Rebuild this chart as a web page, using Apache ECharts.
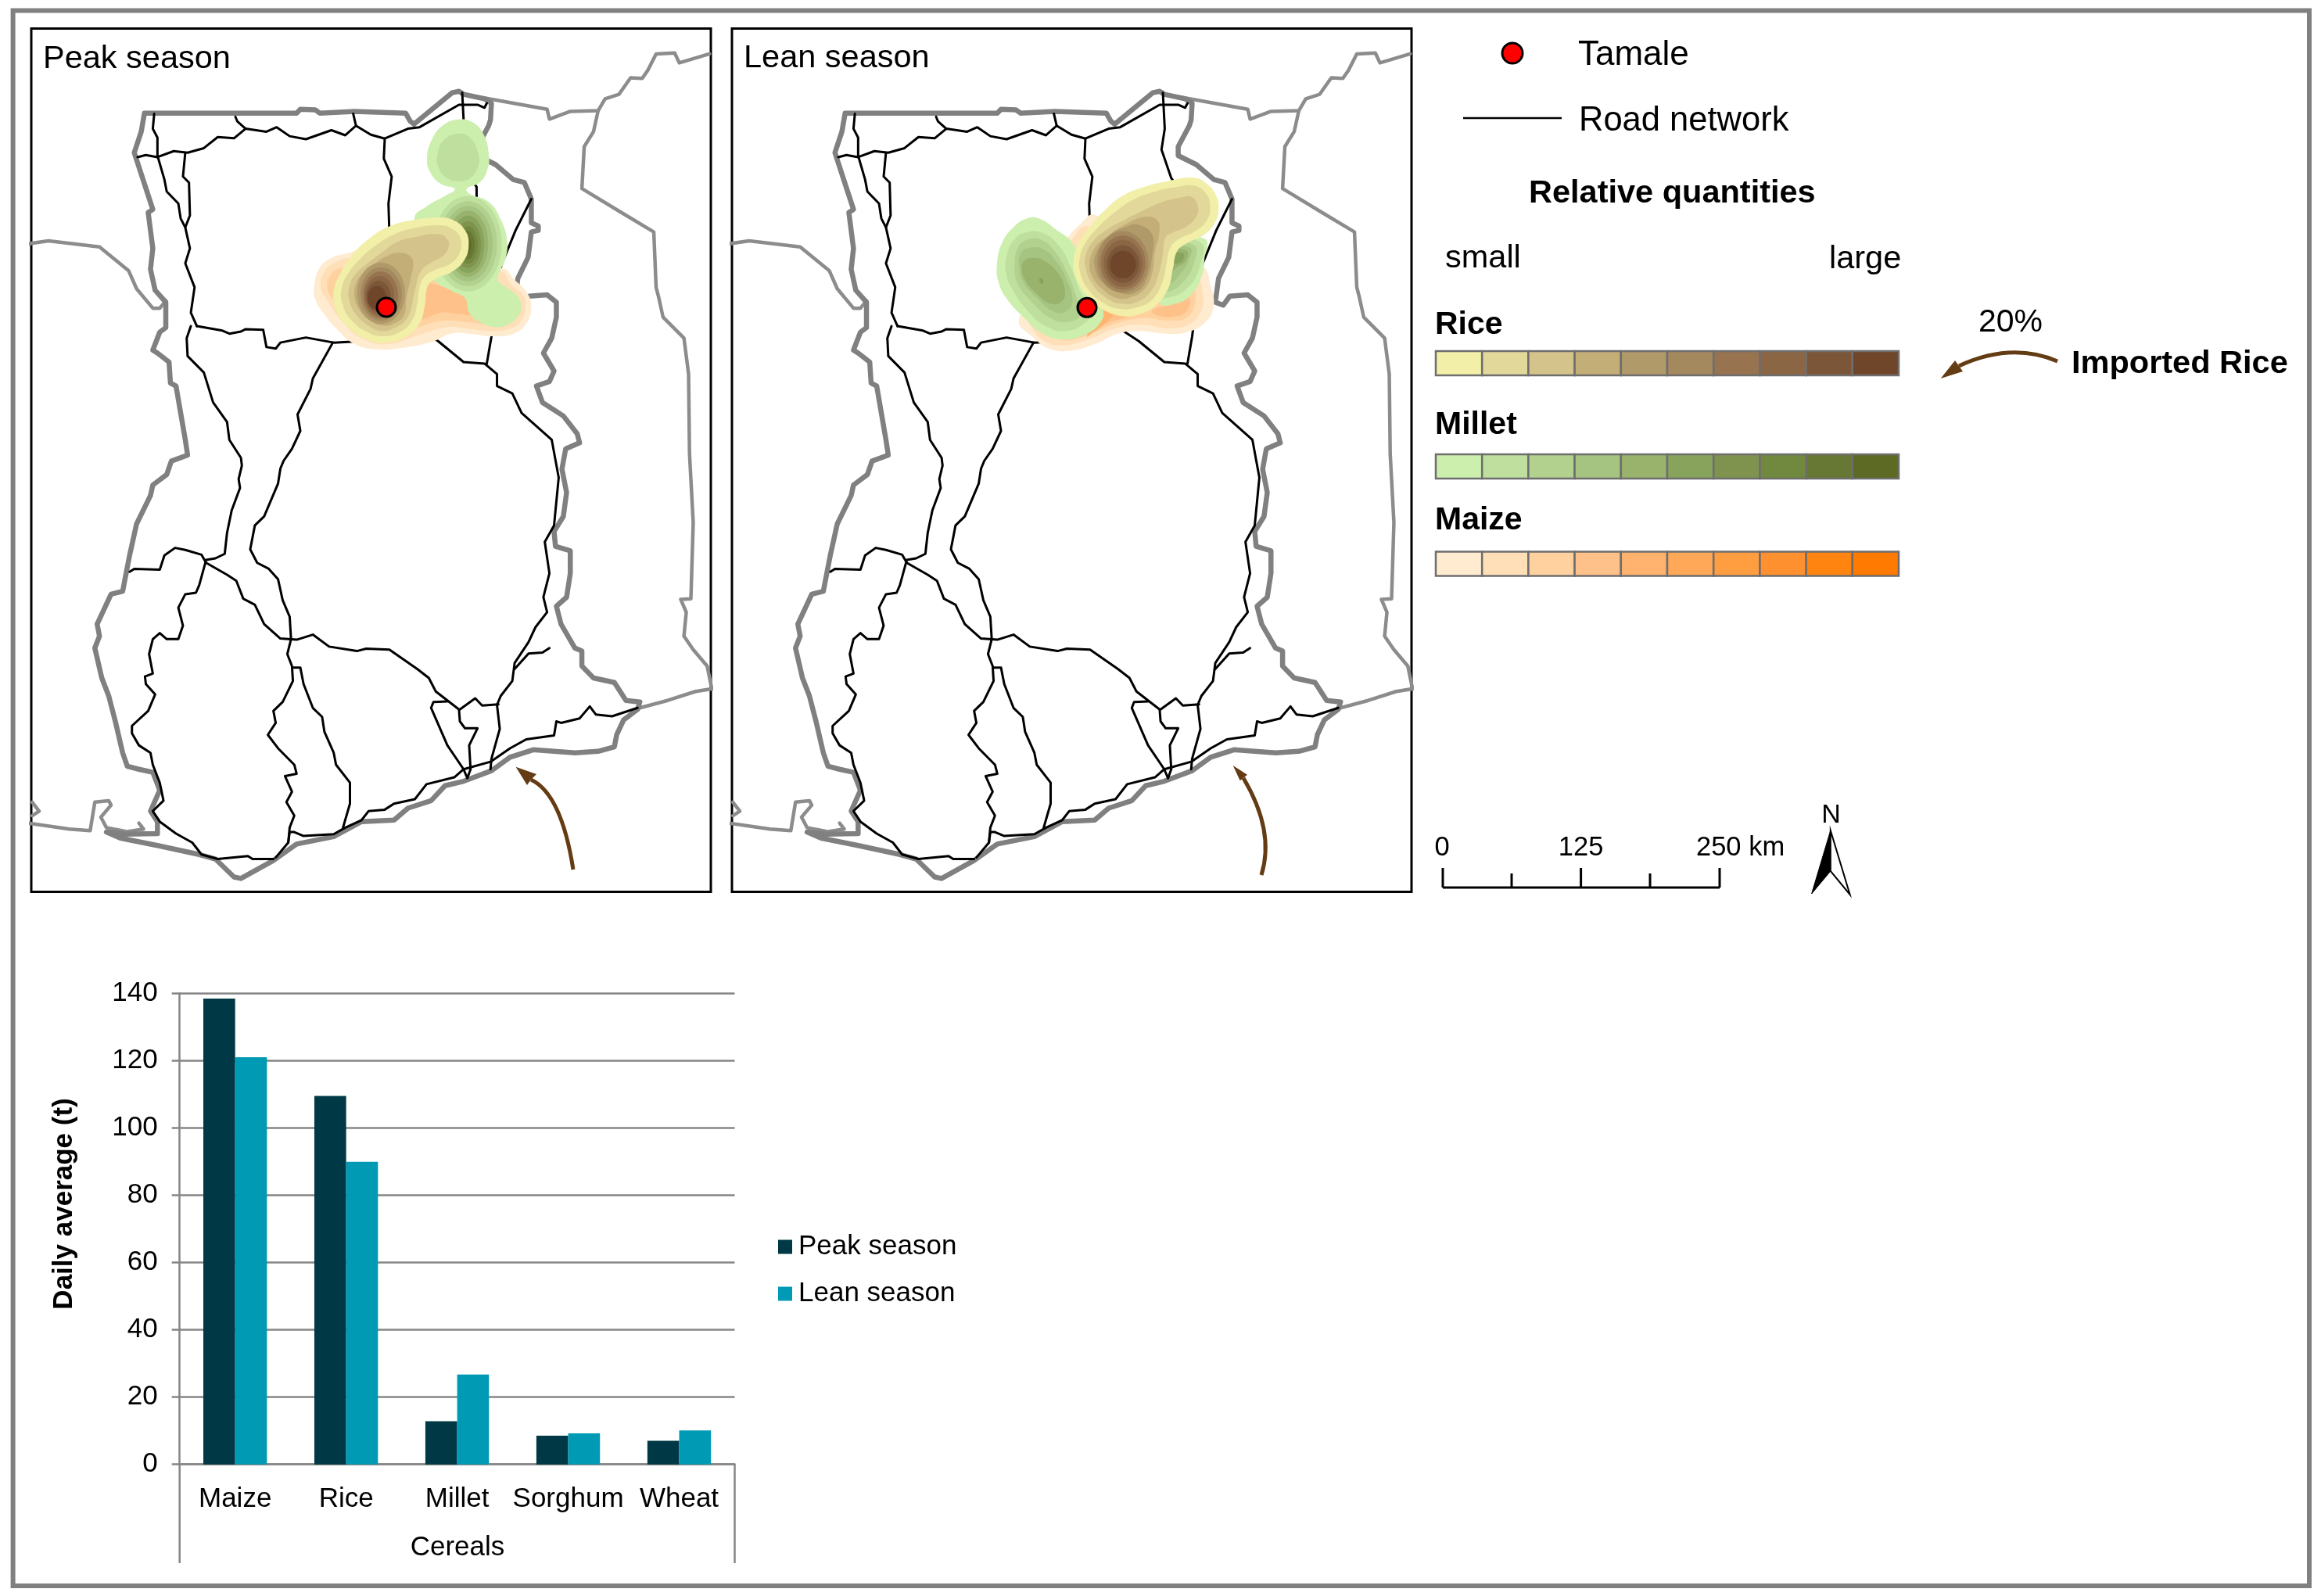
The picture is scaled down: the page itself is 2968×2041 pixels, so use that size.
<!DOCTYPE html>
<html><head><meta charset="utf-8">
<style>html,body{margin:0;padding:0;background:#fff}#c{width:2968px;height:2041px}</style>
<script src="https://cdn.jsdelivr.net/npm/echarts@6/dist/echarts.min.js"></script>
</head><body><div id="c"></div>
<script>
/* ---------- bar chart data ---------- */
const categories = ['Maize','Rice','Millet','Sorghum','Wheat'];
const peakValues = [138.4,109.5,12.8,8.5,7.0];
const leanValues = [121.0,89.9,26.7,9.2,10.1];
const yTicks = {min:0,max:140,step:20};

/* ---------- legend colour ramps (small -> large) ---------- */
const riceRamp   = ['#F2EFA8','#E2D89A','#D4C48C','#C3AE78','#B09A6A','#A4885E','#977350','#8B6644','#7C5639','#70462B'];
const milletRamp = ['#CCEFAE','#BEDF9E','#B2D18E','#A5C482','#99B36D','#88A45C','#7F934F','#71883F','#667834','#5D6A24'];
const maizeRamp  = ['#FFEBD0','#FFDFB8','#FFD19F','#FFC18A','#FFB36E','#FFA858','#FF9E40','#FF9030','#FF8510','#FF7A00'];

/* ---------- map geometry, traced in map units (south sheet is offset by S) ---------- */
const S = pts => pts.map(p => [p[0], p[1] + 1516]);
const ghanaBorder = [[312,378],[640,378],[648,365],[680,367],[690,378],[765,372],[875,378],[885,405],[893,415],[975,310],[990,305],[1000,315],[1045,330],[1060,345],[1058,400],[1054,420],[1030,490],[1030,520],[1069,550],[1107,600],[1131,610],[1146,665],[1146,745],[1161,755],[1161,770],[1146,775],[1139,860],[1117,930],[1110,1010],[1127,1020],[1141,990],[1180,985],[1200,1010],[1200,1060],[1190,1130],[1172,1180],[1195,1240],[1185,1275],[1157,1290],[1170,1345],[1215,1390],[1245,1450],[1250,1480],[1220,1500],[1212,1568],
 ...S([[1222,130],[1215,210],[1195,260],[1198,310],[1230,325],[1230,400],[1222,480],[1200,510],[1210,570],[1240,650],[1255,660],[1255,710],[1280,750],[1325,765],[1350,825],[1380,830],[1375,855],[1345,890],[1330,940],[1325,980],[1290,995],[1240,1000],[1150,990],[1100,1015],[1060,1060],[1000,1095],[960,1110],[930,1160],[880,1185],[850,1225],[780,1230],[720,1280],[640,1305],[590,1360],[520,1420],[505,1415],[465,1355],[430,1340],[340,1310],[260,1285],[230,1265],[270,1272],[340,1270],[340,1230],[325,1195],[345,1125],[330,1065],[300,1055],[275,1045],[265,1000],[250,900],[235,810],[220,750],[205,650],[215,610],[210,570],[240,470],[265,460],[280,340],[295,235],[325,140],[330,105],[360,70],[370,25],[405,5]]),
 [400,1470],[380,1290],[368,1280],[365,1210],[340,1180],[330,1170],[345,1110],[358,1095],[358,1010],[335,970],[325,900],[330,830],[320,710],[330,700],[290,510],[305,440],[312,378]];
const northBorder = [[1000,315],[1180,365],[1185,398],[1230,372],[1290,370],[1305,330],[1335,315],[1360,260],[1385,262],[1397,235],[1415,180],[1455,177],[1465,210],[1530,180]];
const togoBorder = [[1290,370],[1280,440],[1260,490],[1255,630],[1340,710],[1410,775],[1415,960],[1420,990],[1430,1060],[1475,1130],[1485,1250],[1487,1516],
 ...S([[1495,230],[1490,485],[1468,487],[1480,530],[1475,610],[1495,655],[1525,710],[1535,785]])];
const eastCoast = S([[1380,850],[1440,825],[1500,795],[1540,785]]);
const westBorder = [[60,815],[105,805],[215,825],[278,905],[295,965],[330,1030],[345,1030],[358,1005]];
const swBorderA = S([[60,1235],[150,1255],[195,1260],[205,1165],[235,1160],[240,1175],[218,1215],[230,1250],[270,1262]]);
const swBorderB = S([[300,1235],[310,1255],[270,1265]]);
const swBorderC = S([[70,1165],[85,1195],[70,1210]]);

const roadNorthEW = [[297,525],[315,518],[340,525],[375,505],[405,510],[440,495],[470,458],[505,462],[530,430],[575,440],[597,425],[625,455],[660,465],[715,435],[745,452],[768,420],[800,450],[830,463],[880,430],[905,425],[990,350],[1030,350],[1045,360],[1050,345]];
const roadNW = [[333,380],[330,430],[340,460],[340,520],[355,600],[360,640],[385,680],[390,730],[400,760]];
const roadSpurA = [[508,390],[512,405],[530,430]];
const roadSpurB = [[762,380],[768,420]];
const roadBolga = [[830,463],[828,530],[845,590],[838,680],[840,780],[832,1025]];
const roadNE = [[997,310],[1001,430],[994,500],[1015,595],[1028,625],[1028,670]];
const roadEast = [[1146,665],[1112,770],[1083,880],[1060,1000]];
const roadWest = [[400,510],[395,590],[408,610],[410,720],[400,760],[410,830],[400,880],[420,960],[412,1045],[425,1090]];
const roadSawla = [[425,1090],[480,1105],[495,1115],[520,1108],[530,1100],[568,1102],[575,1160],[595,1165],[605,1145],[660,1128],[720,1145],[780,1140],[832,1025]];
const roadCentral = [[718,1145],[675,1265],[670,1300],[642,1385],[648,1440],[630,1500],[612,1540],
 ...S([[605,50],[600,100],[570,210],[550,240],[540,320],[555,365],[580,385],[600,420],[610,490],[625,545],[628,620],[620,670],[630,710],[632,760],[610,830],[590,860],[595,900],[578,940],[600,985],[635,1040],[640,1070],[615,1078],[630,1130],[618,1165],[635,1210],[625,1250],[622,1300],[595,1350]])];
const roadSW = [[412,1090],[403,1130],[405,1190],[440,1245],[460,1345],[490,1410],[495,1470],[520,1530],
 ...S([[522,40],[515,85],[518,115],[500,190],[490,265],[485,335],[465,350],[445,355],[430,440],[423,465],[400,470],[385,515],[395,575],[385,620],[360,620],[345,600],[330,620],[322,670],[330,735],[313,745],[315,770],[335,805],[320,860],[285,910],[285,935],[300,975],[325,1000],[330,1040],[345,1100],[353,1160],[330,1195],[345,1230],[380,1270],[415,1300],[435,1340],[470,1355],[535,1345],[545,1355],[590,1355]])];
const roadVolta = [[832,1025],[945,1140],[1000,1210],[1045,1215],[1072,1250],[1072,1290],[1105,1315],[1125,1380],[1190,1470],
 ...S([[1205,80],[1195,240],[1175,295],[1185,400],[1172,480],[1180,530],[1155,580],[1140,630],[1110,700],[1105,760],[1080,810],[1072,840],[1078,920],[1060,1020],[1058,1055]])];
const roadYendi = [[1070,1000],[1060,1125],[1050,1215]];
const roadKumasi = S([[280,395],[290,385],[345,388],[355,340],[378,315],[400,322],[435,338],[445,365],[490,405],[510,425],[525,485],[550,505],[570,570],[605,618],[640,622],[675,605],[710,645],[770,660],[790,652],[840,655],[900,720],[925,750],[940,795],[965,825],[990,855],[992,895],[1003,918],[1030,918],[1012,975],[1015,1055]]);
const roadAccraW = S([[965,828],[935,830],[930,850],[965,975],[1000,1055],[1008,1085],[1015,1055]]);
const roadCape = S([[632,715],[648,715],[655,770],[675,850],[695,880],[700,930],[720,1000],[725,1040],[755,1100],[755,1170],[740,1250]]);
const roadKoforidua = S([[992,855],[1025,818],[1040,842],[1075,838]]);
const roadHo = S([[1185,650],[1170,665],[1140,668],[1110,720]]);
const roadCoast = S([[622,1300],[625,1265],[635,1265],[655,1278],[720,1272],[745,1250],[780,1225],[795,1195],[830,1190],[850,1170],[895,1155],[920,1105],[980,1082],[1000,1055],[1058,1030],[1100,985],[1135,955],[1195,942],[1200,895],[1210,900],[1250,885],[1272,845],[1285,872],[1320,878],[1375,850]]);
const roads = [roadNorthEW,roadNW,roadSpurA,roadSpurB,roadBolga,roadNE,roadEast,roadWest,roadSawla,roadCentral,roadSW,roadVolta,roadYendi,roadKumasi,roadAccraW,roadCape,roadKoforidua,roadHo,roadCoast];

/* ---------- quantity surfaces: contour bands [ramp, level, outline | ellipse] ---------- */
const peakContours = [
 ['maize',0,[[65,680],[85,610],[130,570],[205,548],[300,520],[500,600],[790,610],[830,650],[880,700],[898,760],[880,820],[830,860],[750,870],[660,860],[590,860],[520,890],[400,915],[300,920],[220,900],[150,840],[100,780],[70,730]]],
 ['maize',1,[[90,680],[105,620],[150,585],[205,570],[400,600],[780,620],[820,670],[870,720],[875,760],[860,810],[820,840],[740,850],[650,840],[580,835],[480,860],[350,900],[250,880],[170,810],[120,740]]],
 ['maize',2,[[115,680],[125,640],[160,610],[300,600],[600,650],[780,690],[850,730],[850,790],[780,825],[650,815],[560,810],[480,830],[350,880],[250,860],[180,790],[130,720]]],
 ['maize',3,[[400,640],[510,665],[640,715],[720,790],[620,785],[550,780],[480,805],[400,800]]],
 ['millet',0,[[620,38],[675,50],[715,95],[735,170],[730,230],[700,280],[650,305],[665,325],[735,355],[780,420],[805,500],[800,570],[770,650],[800,680],[840,710],[860,750],[850,790],[810,825],[760,835],[700,815],[660,780],[645,725],[600,700],[530,660],[500,620],[450,420],[500,370],[570,330],[605,305],[550,285],[510,240],[498,190],[515,120],[560,60]]],
 ['millet',1,[[620,93],[665,110],[695,170],[695,215],[665,262],[620,275],[570,260],[540,215],[537,180],[560,120]]],
 ['millet',1,{e:[655,515,130,183]}],['millet',2,{e:[655,515,112,163]}],['millet',3,{e:[655,515,95,145]}],
 ['millet',4,{e:[655,515,78,127]}],['millet',5,{e:[655,517,63,110]}],['millet',6,{e:[655,518,50,90]}],
 ['millet',7,{e:[655,520,38,72]}],['millet',8,{e:[655,520,26,55]}],['millet',9,{e:[652,520,16,37]}],
 ['rice',0,[[540,415],[600,425],[645,465],[658,520],[640,580],[590,625],[530,650],[500,680],[490,750],[470,820],[420,870],[340,895],[260,880],[190,830],[150,770],[140,700],[165,630],[210,560],[270,500],[350,450],[440,425]]],
 ['rice',1,[[540,445],[590,455],[625,490],[625,545],[590,590],[530,615],[490,640],[470,680],[460,750],[440,810],[400,850],[335,870],[270,855],[205,805],[175,750],[170,690],[195,630],[240,575],[290,530],[370,480],[450,455]]],
 ['rice',2,[[540,478],[578,500],[580,530],[555,565],[510,590],[475,620],[455,680],[435,770],[415,810],[380,835],[330,850],[275,830],[225,785],[200,730],[200,680],[225,630],[270,590],[330,545],[380,510],[450,490]]],
 ['rice',3,[[385,550],[430,560],[445,590],[435,650],[420,720],[410,790],[375,820],[330,830],[280,810],[240,770],[220,720],[225,670],[250,630],[300,590],[340,565]]],
 ['rice',4,{e:[322,705,92,118]}],['rice',5,{e:[322,708,79,103]}],['rice',6,{e:[320,711,67,89]}],
 ['rice',7,{e:[316,714,56,75]}],['rice',8,{e:[312,717,46,60]}],['rice',9,{e:[306,722,36,45]}]
];
const leanContours = [
 ['maize',0,[[315,285],[370,225],[420,195],[830,390],[865,470],[875,550],[840,610],[770,645],[690,650],[590,640],[510,650],[420,690],[330,715],[250,710],[190,670],[130,590]]],
 ['maize',1,[[340,280],[400,240],[800,420],[835,500],[825,570],[780,615],[700,630],[600,615],[500,630],[400,670],[300,695],[230,680],[180,630],[170,590]]],
 ['maize',2,[[790,480],[805,530],[770,590],[700,600],[620,590],[540,600],[450,630],[350,670],[280,670],[200,620],[500,500]]],
 ['maize',3,[[640,560],[740,530],[780,510],[775,560],[720,585],[660,580]]],
 ['maize',3,[[470,570],[560,580],[470,610],[400,650],[350,640]]],
 ['maize',4,[[440,570],[490,570],[470,600],[420,640],[390,660]]],
 ['millet',0,[[840,285],[840,370],[830,430],[790,500],[730,535],[670,530],[650,300]]],
 ['millet',1,[[825,300],[820,400],[780,470],[710,510],[650,500],[650,300]]],
 ['millet',2,[[800,310],[800,380],[760,450],[700,490],[650,480],[650,310]]],
 ['millet',3,[[785,320],[780,370],[745,425],[700,460],[650,450],[650,320]]],
 ['millet',4,[[770,330],[770,370],[735,395],[700,420],[650,400],[650,330]]],
 ['millet',5,[[755,340],[760,365],[740,380],[710,380],[650,370],[650,340]]],
 ['millet',0,[[160,208],[205,208],[270,250],[340,310],[360,400],[390,500],[450,560],[440,610],[380,655],[300,672],[220,650],[150,590],[85,520],[50,450],[45,380],[65,300],[110,240]]],
 ['millet',1,[[155,262],[215,262],[280,310],[330,400],[360,480],[400,570],[380,610],[310,640],[230,620],[160,560],[110,490],[80,420],[85,340],[115,285]]],
 ['millet',2,[[160,290],[215,290],[270,340],[320,430],[350,510],[370,570],[320,605],[250,590],[180,530],[125,460],[112,390],[125,320]]],
 ['millet',3,[[165,322],[220,325],[270,370],[310,440],[335,520],[310,565],[260,565],[195,510],[145,450],[130,390],[135,345]]],
 ['millet',4,[[180,360],[225,370],[280,420],[305,480],[295,525],[250,535],[195,495],[150,440],[140,395],[150,370]]],
 ['millet',5,[[210,435],[222,445],[218,460],[208,450]]],
 ['rice',0,[[800,52],[850,75],[885,120],[895,170],[880,225],[840,270],[770,305],[735,335],[720,400],[700,480],[650,545],[590,575],[520,582],[440,550],[385,500],[350,440],[338,380],[355,310],[400,240],[460,175],[520,125],[600,90],[700,65]]],
 ['rice',1,[[800,82],[845,110],[862,155],[850,215],[800,260],[745,285],[710,320],[695,380],[680,450],[640,520],[580,550],[515,555],[450,530],[395,480],[365,420],[362,360],[385,300],[430,245],[490,190],[560,140],[650,105],[730,88]]],
 ['rice',2,[[790,125],[815,160],[810,200],[770,240],[720,262],[690,285],[680,350],[665,420],[640,480],[590,525],[520,535],[460,510],[410,460],[385,400],[385,350],[410,300],[460,255],[530,215],[590,185],[680,145],[740,130]]],
 ['rice',3,[[610,202],[660,215],[668,260],[650,340],[640,420],[610,480],[560,510],[510,515],[450,480],[410,430],[400,380],[420,320],[470,275],[530,235]]],
 ['rice',4,[[585,232],[640,270],[640,350],[620,440],[580,490],[520,495],[455,460],[420,395],[430,330],[480,270],[540,240]]],
 ['rice',5,{e:[528,375,98,118]}],['rice',6,{e:[528,378,86,104]}],['rice',7,{e:[528,380,74,90]}],
 ['rice',8,{e:[528,383,62,72]}],['rice',9,{e:[528,385,50,53]}]
];
const tamalePeak = [[342,759]];
const tamaleLean = [[390,550]];

/* ---------- page layout ---------- */
const FONT = '"Liberation Sans", Arial, sans-serif';
const mapAxis = {xMin:68,xMax:1533,yMin:95,yMax:2981};
const panelW = 869, panelH = 1104.2, panelTop = 36.4;
const peakLeft = 40, leanLeft = 936;
const ramps = {rice:riceRamp, millet:milletRamp, maize:maizeRamp};
const ink = '#000', grey = '#808080', brown = '#643C14', axisGrey = '#868686';

const grids = [
 {left:229.7,top:1270.2,width:709.8,height:602.5},
 {left:peakLeft,top:panelTop,width:panelW,height:panelH,show:true,borderColor:ink,borderWidth:3,backgroundColor:'transparent'},
 {left:leanLeft,top:panelTop,width:panelW,height:panelH,show:true,borderColor:ink,borderWidth:3,backgroundColor:'transparent'},
 {left:380,top:140,width:320,height:320},
 {left:1260,top:210,width:320,height:250}
];
const hiddenX = (g,min,max)=>({gridIndex:g,type:'value',show:false,min,max});
const hiddenY = (g,min,max)=>({gridIndex:g,type:'value',show:false,min,max,inverse:true});
const xAxes = [
 {gridIndex:0,type:'category',data:categories,axisTick:{show:false},
  axisLine:{lineStyle:{color:axisGrey,width:2.5}},
  axisLabel:{color:ink,fontSize:35,fontFamily:FONT,margin:27,interval:0}},
 hiddenX(1,mapAxis.xMin,mapAxis.xMax),hiddenX(2,mapAxis.xMin,mapAxis.xMax),
 hiddenX(3,0,960),hiddenX(4,0,960)
];
const yAxes = [
 {gridIndex:0,type:'value',min:yTicks.min,max:yTicks.max,interval:yTicks.step,
  name:'Daily average (t)',nameLocation:'middle',nameGap:130,nameRotate:90,
  nameTextStyle:{color:ink,fontSize:35,fontWeight:'bold',fontFamily:FONT,padding:[0,0,0,64]},
  axisLine:{show:true,lineStyle:{color:axisGrey,width:2.5}},
  axisTick:{show:true,length:10,lineStyle:{color:axisGrey,width:2.5}},
  splitLine:{lineStyle:{color:axisGrey,width:2.5}},
  axisLabel:{color:ink,fontSize:35,fontFamily:FONT,margin:28,padding:[3,0,0,0]}},
 hiddenY(1,mapAxis.yMin,mapAxis.yMax),hiddenY(2,mapAxis.yMin,mapAxis.yMax),
 hiddenY(3,0,960),hiddenY(4,0,750)
];

const series = [
 {type:'bar',name:'Peak season',data:peakValues,xAxisIndex:0,yAxisIndex:0,barGap:'0%',barCategoryGap:'42.7%',itemStyle:{color:'#003845'},z:3},
 {type:'bar',name:'Lean season',data:leanValues,xAxisIndex:0,yAxisIndex:0,itemStyle:{color:'#009AB5'},z:3}
];
const lineSeries = (data,ax,color,width,z)=>({type:'line',data,xAxisIndex:ax,yAxisIndex:ax,showSymbol:false,symbol:'none',clip:true,silent:true,
  lineStyle:{color,width,join:'round',cap:'round'},z});
[1,2].forEach(ax=>{
 [togoBorder,northBorder,eastCoast,westBorder,swBorderA,swBorderB,swBorderC].forEach(d=>series.push(lineSeries(d,ax,'#8C8C8C',4.5,4)));
 series.push(lineSeries(ghanaBorder,ax,grey,6.5,5));
 roads.forEach(d=>series.push(lineSeries(d,ax,ink,3,6)));
});
const contourSeries = (list,ax)=>({
 type:'custom',xAxisIndex:ax,yAxisIndex:ax,z:8,silent:true,clip:false,
 data:list.map((c,i)=>[0,0,i]),encode:{x:0,y:1},
 renderItem(params,api){
  const c = list[api.value(2)], color = ramps[c[0]][c[1]], g = c[2];
  let pts, smooth = 0.45;
  if(g.e){
   const [cx,cy,rx,ry] = g.e; pts = [];
   for(let k=0;k<48;k++){const a=k/48*2*Math.PI; pts.push(api.coord([cx+rx*Math.cos(a),cy+ry*Math.sin(a)]));}
   smooth = 0;
  } else pts = g.map(p=>api.coord(p));
  return {type:'polygon',shape:{points:pts,smooth},style:{fill:color,stroke:null}};
 }
});
series.push(contourSeries(peakContours,3),contourSeries(leanContours,4));
const tamale = (d,ax)=>({type:'scatter',data:d,xAxisIndex:ax,yAxisIndex:ax,symbol:'circle',symbolSize:24,silent:true,z:9,
  itemStyle:{color:'#FF0000',borderColor:ink,borderWidth:3,opacity:1}});
series.push(tamale(tamalePeak,3),tamale(tamaleLean,4));

/* ---------- furniture ---------- */
const txt = (text,x,y,size,bold,align)=>({type:'text',z:20,style:{text,x,y,fill:ink,
  font:(bold?'bold ':'')+size+'px '+FONT,textAlign:align||'left',textVerticalAlign:'middle'}});
const ln = (x1,y1,x2,y2,stroke,lineWidth)=>({type:'line',z:20,shape:{x1,y1,x2,y2},style:{stroke,lineWidth}});
const arrow = (s,c,e,head)=>([
 {type:'bezierCurve',z:20,shape:{x1:s[0],y1:s[1],x2:e[0],y2:e[1],cpx1:c[0],cpy1:c[1]},style:{stroke:brown,lineWidth:5,fill:null}},
 {type:'polygon',z:20,shape:{points:head},style:{fill:brown,stroke:null}}
]);
const graphic = [
 {type:'rect',z:19,shape:{x:16.6,y:13.5,width:2936.4,height:2014.5},style:{fill:null,stroke:grey,lineWidth:6}},
 txt('Peak season',55,76,41.5),txt('Lean season',951,75,41.5),
 {type:'circle',z:20,shape:{cx:1934,cy:68,r:13},style:{fill:'#FF0000',stroke:ink,lineWidth:3}},
 txt('Tamale',2018,71,44),
 ln(1871,151,1997,151,ink,2.6),
 txt('Road network',2019,155,43.5),
 txt('Relative quantities',1955,248,41.5,true),
 txt('small',1848,331,41.5),txt('large',2339,332,41.5),
 txt('Rice',1835,416,41,true),txt('Millet',1835,544,41,true),txt('Maize',1835,666,41,true),
 txt('20%',2530,413,41),txt('Imported Rice',2649,466,41.5,true),
 ...arrow([2631,462],[2572,437],[2505,468],[[2481.7,484],[2500,461],[2505,468],[2510,475]]),
 ...arrow([733,1112],[718,1015.5],[679,997],[[659.6,980.7],[686,990],[679,997],[674,1004]]),
 ...arrow([1613,1119],[1630.5,1063],[1590,995],[[1576.7,979],[1595,990.7],[1590,995],[1585.7,998.3]]),
 ln(229.7,1872.7,229.7,1999,axisGrey,2.5),ln(939.5,1872.7,939.5,1999,axisGrey,2.5),
 txt('Cereals',585,1979,35,false,'center'),
 ln(1845,1135,2199,1135,ink,3),
 ln(1845,1110,1845,1135,ink,3),ln(1933,1117,1933,1135,ink,3),ln(2021.6,1110,2021.6,1135,ink,3),ln(2110,1117,2110,1135,ink,3),ln(2199,1110,2199,1135,ink,3),
 txt('0',1844,1084,34.5,false,'center'),txt('125',2021.6,1084,34.5,false,'center'),txt('250 km',2169,1084,34.5),
 txt('N',2341.5,1043,34,false,'center'),
 {type:'polygon',z:20,shape:{points:[[2340.8,1062],[2340.8,1114],[2316.6,1143]]},style:{fill:ink,stroke:ink,lineWidth:1}},
 {type:'polygon',z:20,shape:{points:[[2340.8,1062],[2365.6,1144],[2340.8,1114]]},style:{fill:'#fff',stroke:ink,lineWidth:2}}
];
const rampRows = [['rice',449],['millet',581],['maize',705.5]];
rampRows.forEach(([k,top])=>ramps[k].forEach((col,i)=>graphic.push(
 {type:'rect',z:20,shape:{x:1836+i*59.2,y:top,width:59.2,height:31},style:{fill:col,stroke:'#6E6E6E',lineWidth:2.5}})));

const chart = echarts.init(document.getElementById('c'),null,{renderer:'canvas',width:2968,height:2041,devicePixelRatio:1});
chart.setOption({
 animation:false,backgroundColor:'#fff',textStyle:{fontFamily:FONT},
 grid:grids,xAxis:xAxes,yAxis:yAxes,series,graphic,
 legend:{show:true,data:['Peak season','Lean season'],orient:'vertical',left:990,top:1572,itemWidth:18,itemHeight:18,itemGap:25,
  icon:'rect',selectedMode:false,textStyle:{color:ink,fontSize:35,fontFamily:FONT,padding:[0,0,0,3]}}
});
</script></body></html>
